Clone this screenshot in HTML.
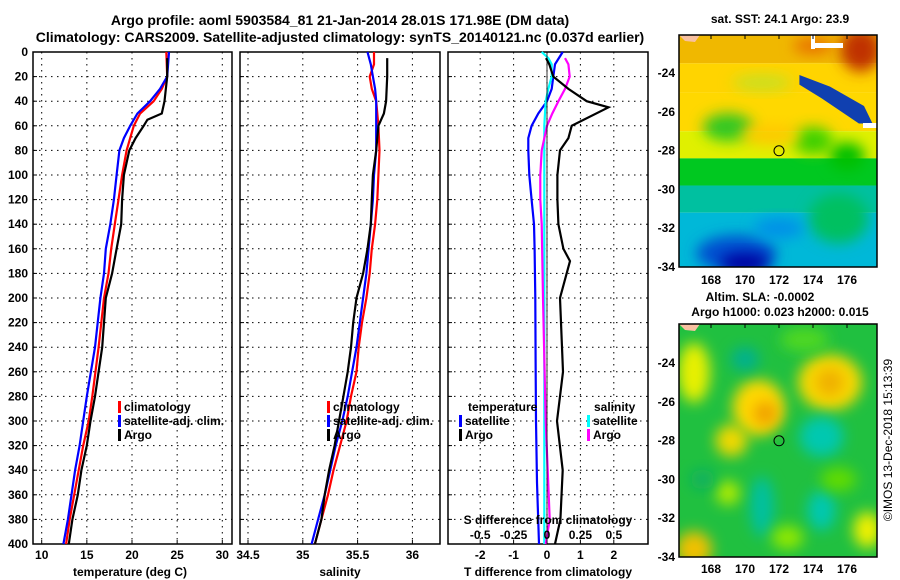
<!DOCTYPE html>
<html><head><meta charset="utf-8"><style>
body{margin:0;background:#fff}
svg{display:block;font-family:"Liberation Sans",sans-serif;font-weight:bold}
</style></head><body>
<svg id="c" width="900" height="580" viewBox="0 0 900 580">
<defs>
<filter id="bl" x="-50%" y="-50%" width="200%" height="200%"><feGaussianBlur stdDeviation="7"/></filter>
<filter id="bl2" x="-50%" y="-50%" width="200%" height="200%"><feGaussianBlur stdDeviation="7"/></filter>
<clipPath id="m1c"><rect x="679" y="35" width="198" height="232"/></clipPath>
<clipPath id="m2c"><rect x="679" y="324" width="198" height="233"/></clipPath>
</defs>
<text x="340" y="25" font-size="14" text-anchor="middle">Argo profile: aoml 5903584_81 21-Jan-2014 28.01S 171.98E (DM data)</text>
<text x="340" y="42" font-size="14" text-anchor="middle">Climatology: CARS2009. Satellite-adjusted climatology: synTS_20140121.nc (0.037d earlier)</text>
<g id="layer"></g>
</svg>
<script>
const depthT=[0,20,30,40,50,60,70,80,100,120,140,160,180,200,240,280,300,320,340,360,380,400];
const tempClim=[23.8,23.9,23.3,22.4,20.9,20.2,19.8,19.4,18.9,18.5,18.1,17.7,17.4,16.9,16.3,15.6,15.2,14.6,14.1,13.6,13.1,12.7];
const tempSat=[24.1,23.9,23.1,22.0,20.6,19.8,19.1,18.6,18.3,18.0,17.6,17.1,16.9,16.5,15.9,15.0,14.6,14.2,13.7,13.3,12.9,12.4];
const depthArgoT=[5,20,40,50,55,60,70,80,100,120,140,160,180,200,240,280,300,320,340,360,380,400];
const tempArgo=[23.9,23.9,23.6,23.3,21.7,21.3,20.4,19.7,19.1,18.9,18.8,18.3,17.8,17.1,16.7,15.9,15.4,15.0,14.4,14.0,13.4,13.0];
const depthS=[0,10,20,30,40,60,80,100,120,140,160,180,200,220,240,260,280,300,320,340,360,380,400];
const salClim=[35.65,35.65,35.61,35.63,35.67,35.69,35.70,35.69,35.68,35.66,35.63,35.61,35.58,35.54,35.51,35.49,35.44,35.40,35.34,35.28,35.23,35.17,35.11];
const salSat=[35.59,35.62,35.64,35.66,35.67,35.67,35.67,35.65,35.64,35.62,35.60,35.58,35.55,35.52,35.49,35.45,35.41,35.36,35.30,35.25,35.20,35.14,35.08];
const depthArgoS=[5,20,40,50,60,80,100,120,140,160,180,200,220,240,260,280,300,320,340,360,380,400];
const salArgo=[35.77,35.77,35.76,35.74,35.69,35.67,35.64,35.63,35.62,35.59,35.55,35.49,35.46,35.44,35.41,35.37,35.33,35.29,35.24,35.20,35.17,35.11];
const depthDT=[0,10,20,30,40,50,60,70,80,100,120,140,160,200,250,300,350,400];
const dTsat=[0.47,0.24,0.19,0.14,0,-0.26,-0.46,-0.56,-0.56,-0.53,-0.46,-0.39,-0.37,-0.35,-0.34,-0.33,-0.3,-0.24];
const depthDA=[5,10,20,30,40,45,60,70,80,100,120,140,160,170,200,260,300,340,380,400];
const dTargo=[-0.03,0.07,0.19,0.64,1.19,1.84,0.74,0.64,0.39,0.31,0.31,0.34,0.49,0.69,0.39,0.48,0.3,0.47,0.4,0.24];
const depthDS=[0,5,10,20,30,40,60,100,140,200,300,400];
const dSsat=[-0.04,0.01,0.035,0.035,0.01,-0.01,-0.02,-0.02,-0.02,-0.02,-0.02,-0.02];
const depthDSA=[5,10,20,30,40,50,60,80,100,120,140,200,300,380,400];
const dSargo=[0.135,0.16,0.17,0.135,0.085,0.04,0,-0.04,-0.05,-0.05,-0.04,-0.03,-0.01,0.02,-0.01];
const depthTicks=[0,20,40,60,80,100,120,140,160,180,200,220,240,260,280,300,320,340,360,380,400];
const tTicks=[10,15,20,25,30], sTicks=[34.5,35,35.5,36], dtTicks=[-2,-1,0,1,2], dsTicks=[-0.5,-0.25,0,0.25,0.5];
const latTicks=[-24,-26,-28,-30,-32,-34], lonTicks=[168,170,172,174,176];

const NS='http://www.w3.org/2000/svg', L=document.getElementById('layer');
function mk(t,a,p){const e=document.createElementNS(NS,t);for(const k in a)e.setAttribute(k,a[k]);(p||L).appendChild(e);return e;}
const Y0=52,Y1=544;
const yD=d=>Y0+d*(Y1-Y0)/400;
const xT=t=>41.7+(t-10)*9.03;
const xS=s=>248+(s-34.5)*109.6;
const xDT=v=>547+v*33.4;
const xDS=v=>547+v*133.6;
const lonX=l=>711+(l-168)*17;
const latY1=a=>73+(-24-a)*19.4;
const latY2=a=>363+(-24-a)*19.4;

function panel(x0,x1,name,xt,xf,labels){
  const g=mk('g',{});
  
  
  xt.forEach(v=>{mk('line',{x1:xf(v),x2:xf(v),y1:Y0,y2:Y1,stroke:'#000','stroke-dasharray':'1.5,4.5'},g);
    mk('line',{x1:xf(v),x2:xf(v),y1:Y1,y2:Y1-4,stroke:'#000'},g);});
  depthTicks.slice(1,-1).forEach(d=>{mk('line',{x1:x0,x2:x1,y1:yD(d),y2:yD(d),stroke:'#000','stroke-dasharray':'1.5,4.5'},g);
    mk('line',{x1:x0,x2:x0+4,y1:yD(d),y2:yD(d),stroke:'#000'},g);});
  mk('rect',{x:x0,y:Y0,width:x1-x0,height:Y1-Y0,fill:'none',stroke:'#000','stroke-width':1.5},g);
  if(labels) xt.forEach((v,i)=>{const t=mk('text',{x:xf(v),y:559,'font-size':12,'text-anchor':'middle'},g);t.textContent=labels[i];
    });
}
function line(xs,ds,xf,col,name){
  const p=mk('polyline',{points:xs.map((v,i)=>xf(v).toFixed(1)+','+yD(ds[i]).toFixed(1)).join(' '),fill:'none',stroke:col,'stroke-width':2.2});
  
  
}
function txt(x,y,s,size,anchor,name){const t=mk('text',{x:x,y:y,'font-size':size||12,'text-anchor':anchor||'start'});t.textContent=s;
  return t;}
function leg(x,y,col,s,name){const r=mk('rect',{x:x,y:y-10,width:3,height:12,fill:col});
  txt(x+6,y,s,12,'start',name);}

panel(33,232,'temperature-panel',tTicks,xT,tTicks.map(String));
panel(240,440,'salinity-panel',sTicks,xS,sTicks.map(String));
panel(448,648,'difference-panel',dtTicks,xDT,dtTicks.map(String));
depthTicks.forEach(d=>txt(28,yD(d)+4,String(d),12,'end','y-tick-label'));
txt(130,576,'temperature (deg C)',12,'middle','x-axis-title-temperature');
txt(340,576,'salinity',12,'middle','x-axis-title-salinity');
txt(548,576,'T difference from climatology',12,'middle','x-axis-title-t-diff');

line(tempClim,depthT,xT,'#f00','temp-climatology-line');
line(tempSat,depthT,xT,'#00f','temp-satellite-line');
line(tempArgo,depthArgoT,xT,'#000','temp-argo-line');
line(salClim,depthS,xS,'#f00','sal-climatology-line');
line(salSat,depthS,xS,'#00f','sal-satellite-line');
line(salArgo,depthArgoS,xS,'#000','sal-argo-line');
line(dTsat,depthDT,xDT,'#00f','dt-satellite-line');
line(dSsat,depthDS,xDS,'#0ff','ds-satellite-line');
line(dSargo,depthDSA,xDS,'#f0f','ds-argo-line');
line(dTargo,depthDA,xDT,'#000','dt-argo-line');
mk('line',{x1:547,x2:547,y1:Y0,y2:Y1,stroke:'#000','stroke-width':0.8});

leg(118,411,'#f00','climatology','legend-climatology');
leg(118,425,'#00f','satellite-adj. clim.','legend-satellite-adj');
leg(118,439,'#000','Argo','legend-argo');
leg(327,411,'#f00','climatology','legend2-climatology');
leg(327,425,'#00f','satellite-adj. clim.','legend2-satellite-adj');
leg(327,439,'#000','Argo','legend2-argo');
txt(468,411,'temperature',12,'start','legend-temperature-heading');
leg(459,425,'#00f','satellite','legend-t-satellite');
leg(459,439,'#000','Argo','legend-t-argo');
txt(594,411,'salinity',12,'start','legend-salinity-heading');
leg(587,425,'#0ff','satellite','legend-s-satellite');
leg(587,439,'#f0f','Argo','legend-s-argo');
txt(548,524,'S difference from climatology',12,'middle','s-axis-title');
dsTicks.forEach(v=>txt(xDS(v),539,String(v),12,'middle','s-tick-label'));

// map 1 SST
const g1=mk('g',{'clip-path':'url(#m1c)'});

[['#f0b800',-22,-23.5],['#ffd400',-23.5,-25],['#ffd800',-25,-27],['#e0f000',-27,-28.4],['#00c820',-28.4,-29.8],['#00c0a0',-29.8,-31.2],['#00b8d8',-31.2,-34.5]].forEach(b=>
 mk('rect',{x:679,y:latY1(b[1]),width:198,height:latY1(b[2])-latY1(b[1]),fill:b[0]},g1));
const blobs1=[[176.8,-22.8,20,22,'#c03000'],[174,-22.6,20,8,'#e87000'],[169,-26.8,25,14,'#30c820'],[174,-27.5,20,14,'#40d000'],[176,-28.3,18,14,'#00c000'],
 [175.5,-31.5,30,25,'#00c060'],[169.5,-33.3,40,18,'#0050d0'],[170,-33.8,25,10,'#0000a0'],[172,-32,25,10,'#0090e8'],[171.5,-27.2,30,10,'#ffc800'],
 [171,-24.5,30,8,'#c8e020']];
blobs1.forEach(b=>mk('ellipse',{cx:lonX(b[0]),cy:latY1(b[1]),rx:b[2],ry:b[3],fill:b[4],filter:'url(#bl)'},g1));
mk('polygon',{points:[[173.2,-24.1],[175,-24.7],[177,-25.7],[177.5,-26.6],[176.7,-26.6],[174.5,-25.3],[173.2,-24.6]].map(p=>lonX(p[0])+','+latY1(p[1])).join(' '),fill:'#1040b0'},g1);
mk('rect',{x:811,y:35,width:4,height:14,fill:'#fff'},g1);mk('rect',{x:811,y:43,width:32,height:5,fill:'#fff'},g1);mk('rect',{x:863,y:123,width:14,height:5,fill:'#fff'},g1);
mk('polygon',{points:'679,35 700,35 695,42 685,41',fill:'#f8c0a0'},g1);
mk('rect',{x:679,y:35,width:198,height:232,fill:'none',stroke:'#000','stroke-width':1.5});
mk('circle',{cx:lonX(172),cy:latY1(-28.01),r:5,fill:'none',stroke:'#000','stroke-width':1});
txt(780,23,'sat. SST: 24.1 Argo: 23.9',12,'middle','sst-map-title');
latTicks.forEach(a=>txt(675,latY1(a)+4,String(a),12,'end','lat-tick-label'));
lonTicks.forEach(l=>{txt(lonX(l),284,String(l),12,'middle','lon-tick-label');mk('line',{x1:lonX(l),x2:lonX(l),y1:35,y2:39,stroke:'#000'});});

// map 2 SLA
const g2=mk('g',{'clip-path':'url(#m2c)'});

mk('rect',{x:679,y:324,width:198,height:233,fill:'#20c040'},g2);
const blobs2=[[167,-24.5,16,30,'#e8f000'],[170.8,-26.3,26,28,'#ffd800'],[171.2,-26.6,12,12,'#f0a000'],[169.2,-28,16,16,'#f0d800'],[175,-25,32,28,'#f8d800'],
 [175,-25,14,14,'#f0b000'],[177.2,-32.6,14,18,'#f0f000'],[167,-33.6,18,18,'#f0c000'],[174.5,-27.8,22,20,'#00c8b0'],[174.5,-31.6,14,20,'#00c8b0'],
 [171,-31.4,12,30,'#00c0a0'],[170,-23.8,14,12,'#00b090'],[173.5,-22.8,24,12,'#50d820'],[172.5,-33,16,12,'#90e800'],[169,-30.7,12,12,'#b0ec00'],[175.5,-30,18,12,'#60dc00'],
 [167.5,-30,12,10,'#10b060']];
blobs2.forEach(b=>mk('ellipse',{cx:lonX(b[0]),cy:latY2(b[1]),rx:b[2],ry:b[3],fill:b[4],filter:'url(#bl2)'},g2));
mk('polygon',{points:'679,324 700,324 695,331 685,330',fill:'#f8c0a0'},g2);
mk('rect',{x:679,y:324,width:198,height:233,fill:'none',stroke:'#000','stroke-width':1.5});
mk('circle',{cx:lonX(172),cy:latY2(-28.01),r:5,fill:'none',stroke:'#000','stroke-width':1});
txt(760,301,'Altim. SLA: -0.0002',12,'middle','sla-map-title');
txt(780,316,'Argo h1000: 0.023 h2000: 0.015',12,'middle','sla-map-subtitle');
latTicks.forEach(a=>txt(675,latY2(a)+4,String(a),12,'end','lat-tick-label'));
lonTicks.forEach(l=>{txt(lonX(l),573,String(l),12,'middle','lon-tick-label');mk('line',{x1:lonX(l),x2:lonX(l),y1:324,y2:328,stroke:'#000'});});
const cr=txt(0,0,'©IMOS 13-Dec-2018 15:13:39',12,'middle','imos-timestamp');
cr.setAttribute('font-weight','normal');
cr.setAttribute('transform','translate(892,440) rotate(-90)');
</script>
</body></html>
